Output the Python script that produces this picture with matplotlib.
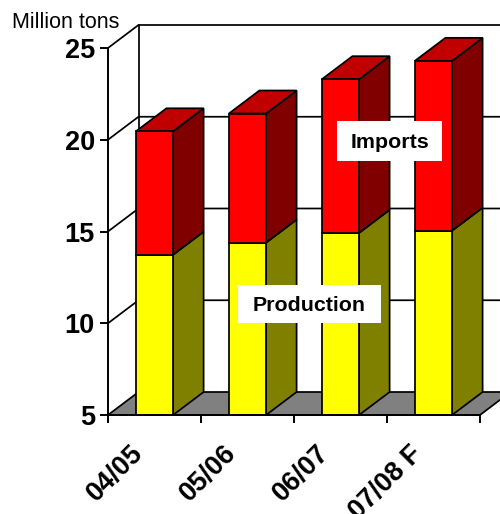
import matplotlib
matplotlib.use('Agg')
import matplotlib.pyplot as plt
from matplotlib.patches import Polygon, Rectangle

# Data
seasons = ['04/05', '05/06', '06/07', '07/08 F']
production = [13.74, 14.4, 14.93, 15.05]
imports = [6.72, 7.03, 8.37, 9.25]
y_ticks = [5, 10, 15, 20, 25]

plt.rcParams['font.family'] = ['Liberation Sans', 'DejaVu Sans']

W, H = 500, 514
LW = 1.25

# Fake 3D depth, in data units (about 30.5 px right and 23 px up)
DX = 30.5 / 93
DY = 23 / 18.35
BAR_W = 0.4

fig = plt.figure(figsize=(W / 100, H / 100), dpi=100)
ax = fig.add_axes([108 / W, 1 - 415 / H, 372 / W, 367 / H])
ax.set_xlim(0, len(seasons))
ax.set_ylim(y_ticks[0], y_ticks[-1])
ax.patch.set_visible(False)


def box(x0, x1, y0, y1, front, top, side):
    # One stacked block: side, top, then front face
    faces = [
        ([(x1, y0), (x1 + DX, y0 + DY), (x1 + DX, y1 + DY), (x1, y1)], side),
        ([(x0, y1), (x1, y1), (x1 + DX, y1 + DY), (x0 + DX, y1 + DY)], top),
        ([(x0, y0), (x1, y0), (x1, y1), (x0, y1)], front),
    ]
    for pts, color in faces:
        ax.add_patch(Polygon(pts, closed=True, facecolor=color, edgecolor='black',
                             linewidth=LW, clip_on=False, zorder=2))


# Floor
n = len(seasons)
ymin = y_ticks[0]
ymax = y_ticks[-1]
ax.add_patch(Polygon([(0, ymin), (n, ymin), (n + DX, ymin + DY), (DX, ymin + DY)], closed=True,
                     facecolor='#808080', edgecolor='black', linewidth=LW, clip_on=False, zorder=1))

# Back wall and left wall lines
ax.plot([DX, DX], [ymin + DY, ymax + DY], color='black', lw=LW, clip_on=False, zorder=1)
for v in y_ticks[1:]:
    ax.plot([0, DX, n + DX], [v, v + DY, v + DY], color='black', lw=LW, clip_on=False, zorder=1)

# Stacked bars
for i in range(n):
    x0 = i + 0.5 - BAR_W / 2
    x1 = i + 0.5 + BAR_W / 2
    total = production[i] + imports[i]
    box(x0, x1, ymin, production[i], 'yellow', '#808000', '#808000')
    box(x0, x1, production[i], total, 'red', '#C00000', '#800000')

# Axes
for s in ['top', 'right']:
    ax.spines[s].set_visible(False)
for s in ['left', 'bottom']:
    ax.spines[s].set_linewidth(1.4)
ax.set_yticks(y_ticks)
ax.set_yticklabels([str(v) for v in y_ticks], fontsize=19.5, fontweight='bold')
ax.tick_params(axis='y', length=6, width=1.4, pad=3.5)
ax.set_xticks(range(n + 1))
ax.set_xticklabels([])
ax.tick_params(axis='x', length=6, width=1.4)

# Season labels sit between the ticks
for i, name in enumerate(seasons):
    ax.annotate(name, (i + 0.5, ymin), xytext=(-11, -25), textcoords='offset points',
                rotation=45, rotation_mode='anchor', ha='right', va='center',
                fontsize=19.5, fontweight='bold', annotation_clip=False)

fig.text(12 / W, 1 - 23 / H, 'Million tons', fontsize=15.5, va='center', ha='left')


def label(text, left, right, top, bottom):
    # White box with a bold series name, placed in pixels
    fig.add_artist(Rectangle((left / W, 1 - bottom / H), (right - left) / W, (bottom - top) / H,
                             transform=fig.transFigure, facecolor='white', edgecolor='none', zorder=5))
    fig.text((left + right) / 2 / W, 1 - ((top + bottom) / 2 + 1.5) / H, text, fontsize=15.4, fontweight='bold',
             ha='center', va='center', zorder=6)


label('Imports', 337, 442, 121, 161)
label('Production', 238, 381, 285, 323)

fig.savefig('out.png', dpi=100)
